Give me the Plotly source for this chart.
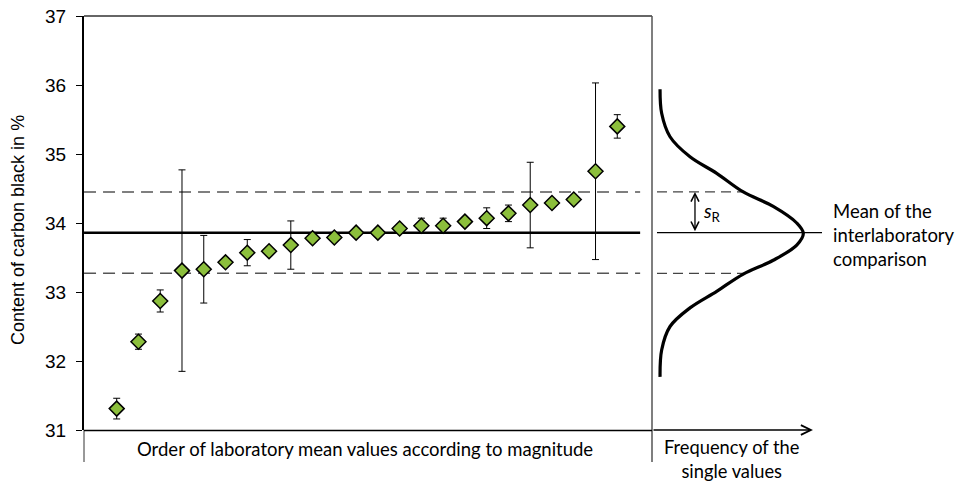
import plotly.graph_objects as go

# ---------------- data ----------------
lab_rank = list(range(1, 25))
lab_means = [31.31, 32.28, 32.87, 33.31, 33.33, 33.43, 33.57, 33.59, 33.68, 33.78,
             33.79, 33.86, 33.86, 33.92, 33.96, 33.96, 34.02, 34.07, 34.14, 34.26,
             34.29, 34.34, 34.75, 35.40]
lab_err = [0.15, 0.11, 0.16, 1.46, 0.49, 0.0, 0.19, 0.0, 0.35, 0.0,
           0.0, 0.0, 0.0, 0.0, 0.11, 0.11, 0.0, 0.15, 0.12, 0.62,
           0.0, 0.0, 1.28, 0.17]
grand_mean = 33.86
upper_sr = 34.45
lower_sr = 33.27
line_x = [-0.5, 25.05]

# schematic frequency curve (frequency, value)
curve_freq = [0.05, 0.06, 0.112, 0.236, 0.402, 0.567, 0.753, 0.899, 0.94,
              0.899, 0.753, 0.567, 0.402, 0.236, 0.112, 0.06, 0.05]
curve_val = [35.94, 35.59, 35.25, 34.96, 34.72, 34.45, 34.24, 34.00, 33.85,
             33.68, 33.46, 33.26, 33.01, 32.77, 32.50, 32.16, 31.77]

y_ticks = [31, 32, 33, 34, 35, 36, 37]

# ---------------- layout helpers ----------------
W, H = 959, 483
ML, MR, MT, MB = 84, 0, 16, 53
PW = W - ML - MR
PH = H - MT - MB


def xp(px):
    return (px - ML) / PW


def yp(py):
    return 1 - (py - MT) / PH


BODY = "Lato, 'Open Sans', sans-serif"
ARIAL = "'Liberation Sans', Arial, sans-serif"

fig = go.Figure()

# main panel lines
fig.add_trace(go.Scatter(x=line_x, y=[upper_sr, upper_sr], mode="lines",
                         line=dict(color="#555555", width=1.5, dash="12px,7px"),
                         hoverinfo="skip", xaxis="x", yaxis="y"))
fig.add_trace(go.Scatter(x=line_x, y=[lower_sr, lower_sr], mode="lines",
                         line=dict(color="#555555", width=1.5, dash="12px,7px"),
                         hoverinfo="skip", xaxis="x", yaxis="y"))
fig.add_trace(go.Scatter(x=line_x, y=[grand_mean, grand_mean], mode="lines",
                         line=dict(color="black", width=2.5),
                         hoverinfo="skip", xaxis="x", yaxis="y"))

# lab means
fig.add_trace(go.Scatter(
    x=lab_rank, y=lab_means, mode="markers",
    marker=dict(symbol="diamond", size=11.5, color="#8CBF3C",
                line=dict(color="black", width=1.5)),
    error_y=dict(type="data", array=lab_err, visible=True,
                 color="black", thickness=1, width=3.5),
    xaxis="x", yaxis="y"))

# right panel
rp_dash_x = [0.031, 0.571]
fig.add_trace(go.Scatter(x=rp_dash_x, y=[upper_sr, upper_sr], mode="lines",
                         line=dict(color="#444444", width=1.2, dash="10px,6px"),
                         hoverinfo="skip", xaxis="x2", yaxis="y"))
fig.add_trace(go.Scatter(x=rp_dash_x, y=[lower_sr, lower_sr], mode="lines",
                         line=dict(color="#444444", width=1.2, dash="10px,6px"),
                         hoverinfo="skip", xaxis="x2", yaxis="y"))
fig.add_trace(go.Scatter(x=[0.031, 1.056], y=[grand_mean, grand_mean], mode="lines",
                         line=dict(color="black", width=1.2),
                         hoverinfo="skip", xaxis="x2", yaxis="y"))
fig.add_trace(go.Scatter(x=curve_freq, y=curve_val, mode="lines",
                         line=dict(color="black", width=3.2, shape="spline", smoothing=1.0),
                         hoverinfo="skip", xaxis="x2", yaxis="y"))

shapes = [
    # top border
    dict(type="line", xref="paper", yref="paper", x0=xp(84), x1=xp(652),
         y0=yp(16), y1=yp(16), line=dict(color="#333333", width=1.5)),
    # right border / separator
    dict(type="line", xref="paper", yref="paper", x0=xp(652), x1=xp(652),
         y0=yp(16), y1=yp(462), line=dict(color="#555555", width=1.5)),
    # left line below axis
    dict(type="line", xref="paper", yref="paper", x0=xp(84), x1=xp(84),
         y0=yp(430), y1=yp(462), line=dict(color="#333333", width=1)),
    # bottom axis of main panel
    dict(type="line", xref="paper", yref="paper", x0=xp(84), x1=xp(652),
         y0=yp(430.5), y1=yp(430.5), line=dict(color="black", width=1.5)),
]

annotations = [
    dict(xref="paper", yref="paper", x=xp(18), y=yp(230), text="Content of carbon black in %",
         textangle=-90, showarrow=False, font=dict(family=ARIAL, size=18, color="black"),
         xanchor="center", yanchor="middle"),
    dict(xref="paper", yref="paper", x=xp(365), y=yp(449),
         text="Order of laboratory mean values according to magnitude",
         showarrow=False, font=dict(family=BODY, size=18.5, color="black"),
         xanchor="center", yanchor="middle"),
    dict(xref="paper", yref="paper", x=xp(731), y=yp(459),
         text="Frequency of the<br>single values", showarrow=False, align="center",
         font=dict(family=BODY, size=18.3, color="black"),
         xanchor="center", yanchor="middle"),
    dict(xref="paper", yref="paper", x=xp(831), y=yp(235),
         text="Mean of the<br>interlaboratory<br>comparison", showarrow=False, align="left",
         font=dict(family=BODY, size=18.5, color="black"),
         xanchor="left", yanchor="middle"),
    dict(xref="paper", yref="paper", x=xp(701), y=yp(212),
         text="<i>s</i><sub>R</sub>", showarrow=False,
         font=dict(family=BODY, size=19, color="black"),
         xanchor="left", yanchor="middle"),
    # frequency axis arrow
    dict(xref="x2", yref="y", x=1.0, y=31.0, ax=-161, ay=0, axref="pixel", ayref="pixel",
         showarrow=True, arrowhead=5, arrowsize=1.3, arrowwidth=1.5, arrowcolor="black",
         text=""),
    # s_R double arrow
    dict(xref="x2", yref="y", x=0.267, y=upper_sr, ax=0.267, ay=grand_mean,
         axref="x2", ayref="y", showarrow=True, arrowhead=5, startarrowhead=5,
         arrowside="end+start", arrowsize=1.2, startarrowsize=1.2, arrowwidth=1.3,
         arrowcolor="black", text=""),
]

fig.update_layout(
    width=W, height=H,
    margin=dict(l=ML, r=MR, t=MT, b=MB),
    paper_bgcolor="white", plot_bgcolor="white",
    showlegend=False,
    xaxis=dict(domain=[0, xp(652)], range=[-0.502, 25.595], showgrid=False,
               zeroline=False, showticklabels=False, ticks="", showline=False,
               fixedrange=True),
    xaxis2=dict(domain=[xp(652), xp(822)], range=[0, 1.056], anchor="y",
                showgrid=False, zeroline=False, showticklabels=False, ticks="",
                showline=False, fixedrange=True),
    yaxis=dict(range=[31, 37], tickvals=y_ticks, ticktext=[str(v) for v in y_ticks],
               showgrid=False, zeroline=False, showline=True, linecolor="black",
               linewidth=2, ticks="outside", ticklen=6, tickwidth=1, tickcolor="black",
               ticklabelstandoff=6,
               tickfont=dict(family=ARIAL, size=19, color="black"), fixedrange=True),
    shapes=shapes,
    annotations=annotations,
)

fig.write_html("out.html", config={"displayModeBar": False},
               post_script="document.body.style.margin='0';document.body.style.overflow='hidden';")
